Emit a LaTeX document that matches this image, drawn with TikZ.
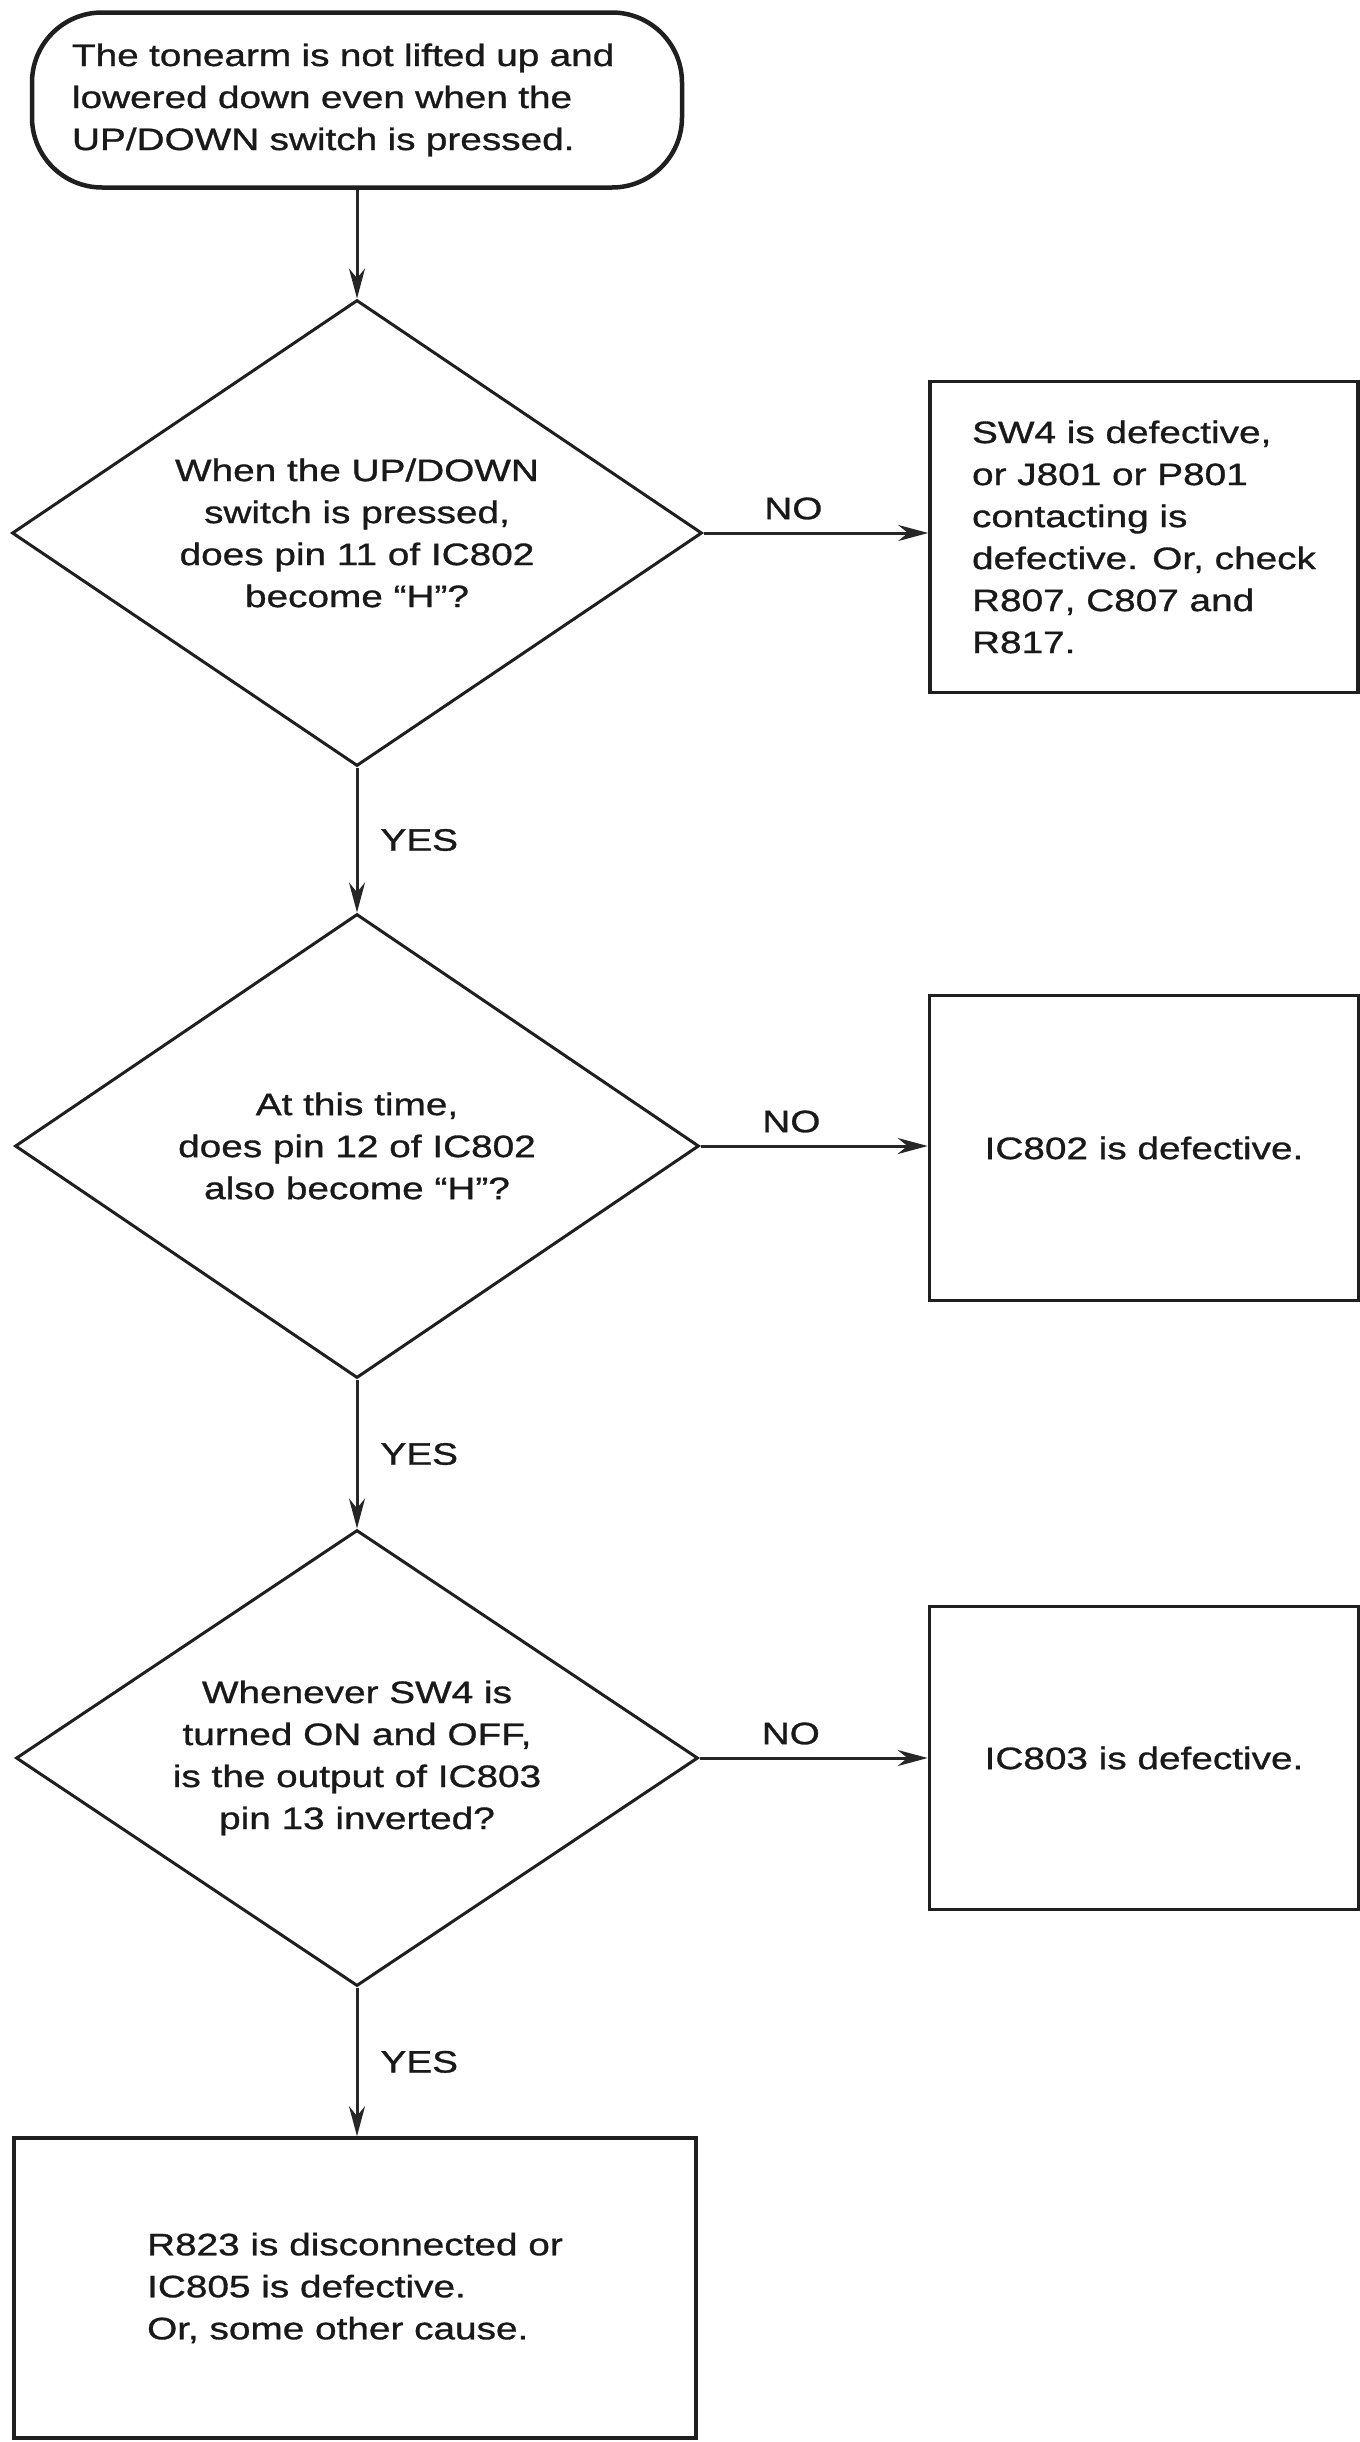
\documentclass[tikz,border=0pt]{standalone}
\usepackage{fontspec}
\setmainfont{Liberation Sans}[FakeStretch=1.25,FakeBold=1]
\usetikzlibrary{shapes.geometric,arrows.meta}
\begin{document}
\begin{tikzpicture}[x=1pt,y=-1pt,
  every node/.style={font=\fontsize{31}{42}\selectfont, inner sep=0pt, text=black!90},
  term/.style={draw=black!88, line width=4.5pt, rounded corners=70pt,
    minimum width=650pt, minimum height=175pt, align=left, text width=570pt},
  decision/.style={draw=black!88, diamond, line width=3pt, aspect=1.48,
    align=center},
  result/.style={draw=black!88, rectangle, line width=3.6pt, align=left},
  flow/.style={line width=3pt, draw=black!85,
    -{Stealth[length=30pt,width=16pt]}},
  lbl/.style={font=\fontsize{31}{36}\selectfont}
]
\useasboundingbox (0,0) rectangle (1360,2442);

\node[term] (start) at (357,100)
  {The tonearm is not lifted up and\\lowered down even when the\\UP/DOWN switch is pressed.};

\node[decision, minimum width=690pt, minimum height=466pt] (q1) at (357,533)
  {When the UP/DOWN\\switch is pressed,\\does pin 11 of IC802\\become ``H''?};
\node[result, minimum width=428pt, minimum height=311pt] (r1) at (1144,537)
  {SW4 is defective,\\or J801 or P801\\contacting is\\defective. Or, check\\R807, C807 and\\R817.};

\node[decision, minimum width=684pt, minimum height=464pt] (q2) at (357,1146)
  {At this time,\\does pin 12 of IC802\\also become ``H''?};
\node[result, minimum width=429pt, minimum height=305pt] (r2) at (1144,1148)
  {IC802 is defective.};

\node[decision, minimum width=682pt, minimum height=456pt] (q3) at (357,1758)
  {Whenever SW4 is\\turned ON and OFF,\\is the output of IC803\\pin 13 inverted?};
\node[result, minimum width=429pt, minimum height=303pt] (r3) at (1144,1758)
  {IC803 is defective.};

\node[result, minimum width=682pt, minimum height=300pt] (final) at (355,2288)
  {R823 is disconnected or\\IC805 is defective.\\Or, some other cause.};

\draw[flow] (start.south) -- (q1.north);
\draw[flow] (q1.south) -- node[lbl, right=22pt] (y1) {YES} (q2.north);
\draw[flow] (q2.south) -- node[lbl, right=22pt] (y2) {YES} (q3.north);
\draw[flow] (q3.south) -- node[lbl, right=22pt] (y3) {YES} (q3.south |- final.north);

\draw[flow] (q1.east) -- node[lbl, above=12pt, pos=0.4] (n1) {NO} (q1.east -| r1.west);
\draw[flow] (q2.east) -- node[lbl, above=12pt, pos=0.4] (n2) {NO} (q2.east -| r2.west);
\draw[flow] (q3.east) -- node[lbl, above=12pt, pos=0.4] (n3) {NO} (q3.east -| r3.west);
\end{tikzpicture}
\end{document}
